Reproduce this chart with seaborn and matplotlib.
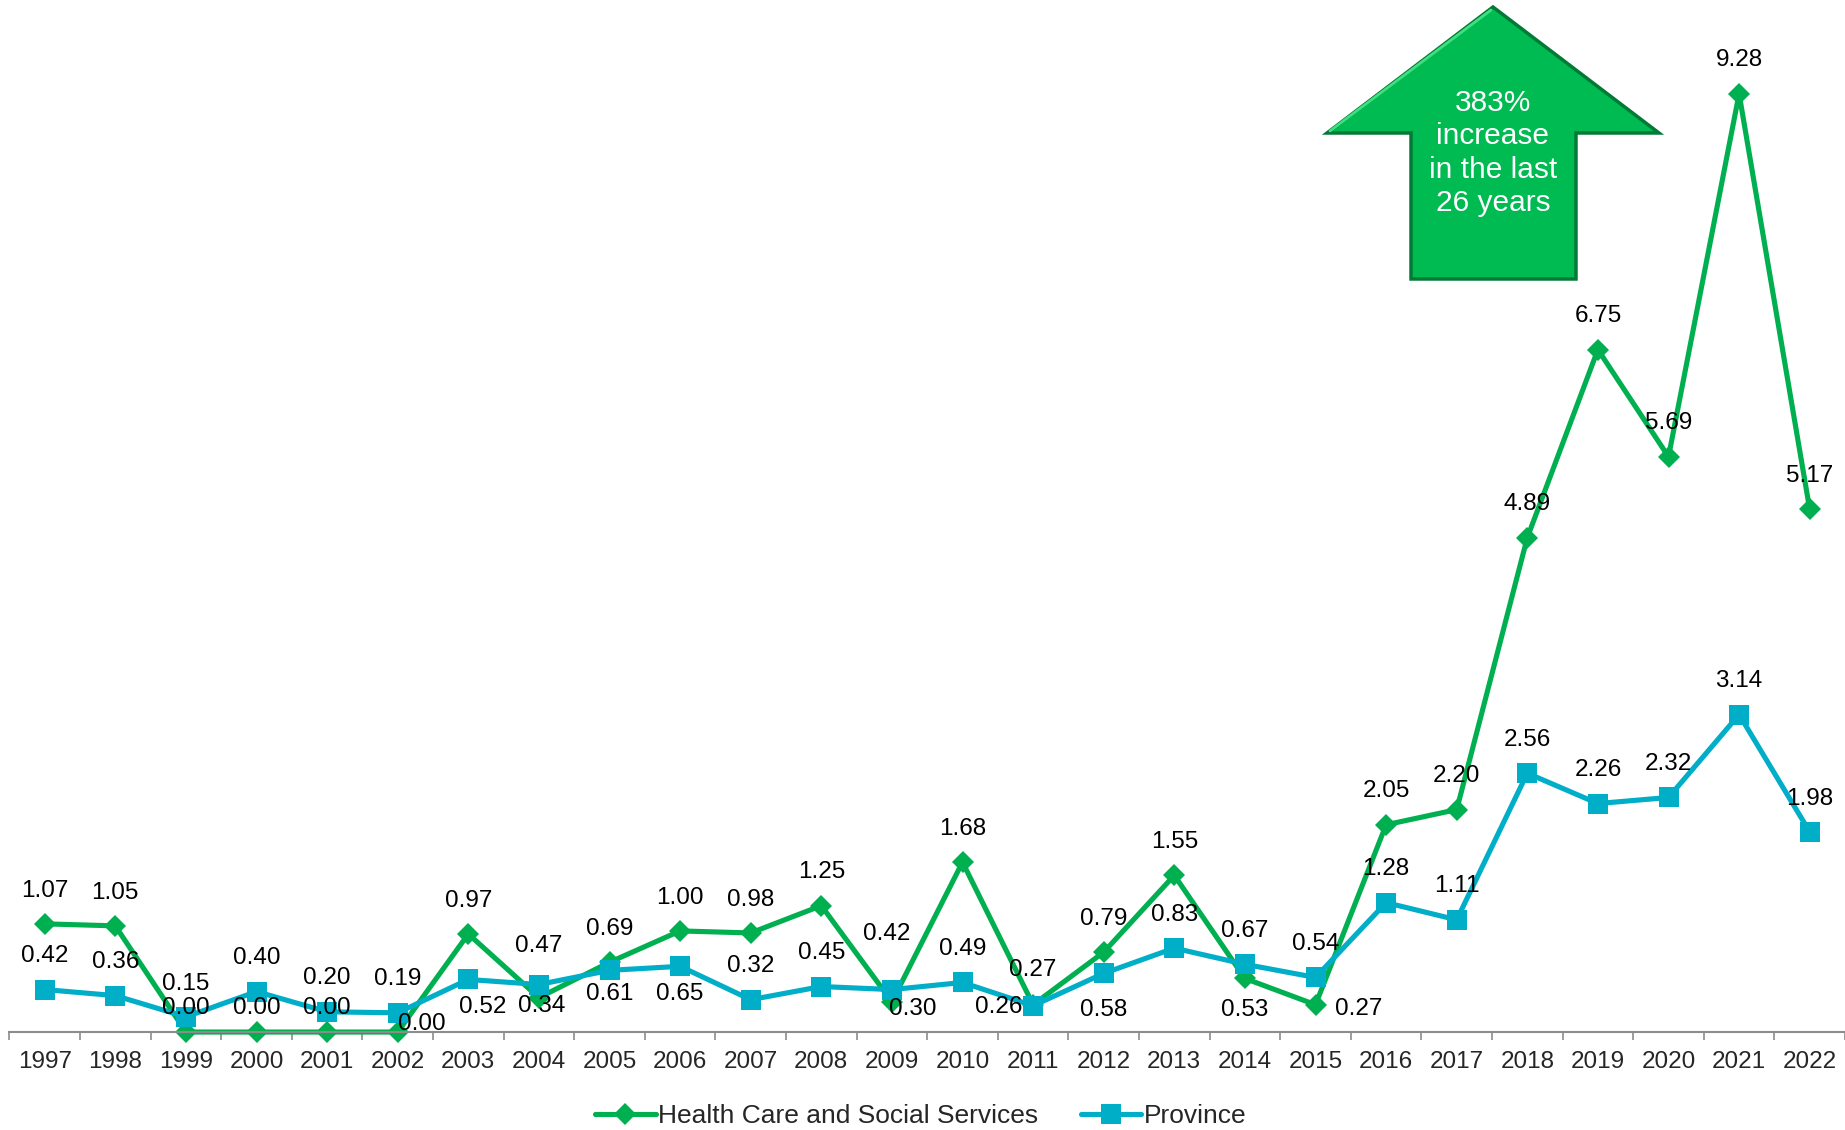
import numpy as np
import pandas as pd
import matplotlib.pyplot as plt
from matplotlib.patches import Polygon
import seaborn as sns

# Data
years = list(range(1997, 2023))
health = [1.07, 1.05, 0.00, 0.00, 0.00, 0.00, 0.97, 0.34, 0.69, 1.00, 0.98, 1.25, 0.30,
          1.68, 0.27, 0.79, 1.55, 0.53, 0.27, 2.05, 2.20, 4.89, 6.75, 5.69, 9.28, 5.17]
province = [0.42, 0.36, 0.15, 0.40, 0.20, 0.19, 0.52, 0.47, 0.61, 0.65, 0.32, 0.45, 0.42,
            0.49, 0.26, 0.58, 0.83, 0.67, 0.54, 1.28, 1.11, 2.56, 2.26, 2.32, 3.14, 1.98]
series_names = ['Health Care and Social Services', 'Province']
arrow_text = '383%\nincrease\nin the last\n26 years'

# label offsets (points) - default is straight above the marker
health_off = {1999: (0, 17), 2000: (0, 17), 2001: (0, 17), 2002: (17, 6), 2004: (2, -6),
              2009: (15, -5), 2011: (0, 25), 2014: (0, -23), 2015: (31, -3)}
province_off = {2003: (10, -20), 2004: (0, 28), 2005: (0, -17), 2006: (0, -20),
                2009: (-4, 40), 2011: (-25, -1), 2012: (0, -26)}

green = '#00B050'
blue = '#00AEC8'

sns.set_style('white')
plt.rcParams['font.family'] = ['Liberation Sans', 'DejaVu Sans']

df = pd.DataFrame({'Year': years, 'Health': health, 'Province': province})

fig = plt.figure(figsize=(18.45, 11.3), dpi=100)
ax = fig.add_axes([0.0051, 0.0867, 0.9949, 0.8947])

sns.lineplot(data=df, x='Year', y='Health', ax=ax, color=green, linewidth=3.7,
             marker='D', markersize=11.5, markeredgewidth=0, label=series_names[0], clip_on=False)
sns.lineplot(data=df, x='Year', y='Province', ax=ax, color=blue, linewidth=3.7,
             marker='s', markersize=14.5, markeredgewidth=0, label=series_names[1], clip_on=False)

ax.set_xlim(1996.5, 2022.5)
ax.set_ylim(0, 10)
ax.set_xlabel('')
ax.set_ylabel('')
ax.set_yticks([])
ax.set_xticks(years)
ax.set_xticklabels([str(y) for y in years], fontsize=17.5)
ax.set_xticks(np.arange(1996.5, 2023, 1), minor=True)
ax.tick_params(axis='x', which='major', length=0, pad=14)
ax.tick_params(axis='x', which='minor', length=6, width=1.2, color='#8c8c8c', direction='out', bottom=True)
for side in ['top', 'right', 'left']:
    ax.spines[side].set_visible(False)
ax.spines['bottom'].set_color('#8c8c8c')
ax.spines['bottom'].set_linewidth(1.5)

# data labels
for vals, offs in [(health, health_off), (province, province_off)]:
    for yr, v in zip(years, vals):
        dx, dy = offs.get(yr, (0, 24))
        ax.annotate(f'{v:.2f}', (yr, v), xytext=(dx, dy), textcoords='offset points',
                    ha='center', va='center', fontsize=17.5, color='black')

# legend
handles, labels = ax.get_legend_handles_labels()
ax.get_legend().remove()
fig.legend(handles, labels, loc='center', bbox_to_anchor=(0.499, 0.0125), ncol=2,
           frameon=False, fontsize=19, handlelength=2.3, handletextpad=0.1, columnspacing=1.6)

# big green arrow
W, H = 1845, 1130
pts = [(1493, 7), (1659, 133), (1576, 133), (1576, 279), (1411, 279), (1411, 133), (1327, 133)]
arrow = Polygon([(x / W, 1 - y / H) for x, y in pts], closed=True, transform=fig.transFigure,
                facecolor='#00BA52', edgecolor='#007A35', linewidth=2.5, zorder=5)
fig.add_artist(arrow)
# light bevel on the upper-left edge of the head
fig.add_artist(plt.Line2D([1330 / W, 1491 / W], [1 - 131 / H, 1 - 10 / H], transform=fig.transFigure,
                          color='#3FE07F', linewidth=2, zorder=6))
fig.text(1493 / W, 1 - 153 / H, arrow_text, ha='center', va='center', color='white',
         fontsize=21.5, linespacing=1.25, zorder=7)

plt.savefig('out.png', dpi=100)
